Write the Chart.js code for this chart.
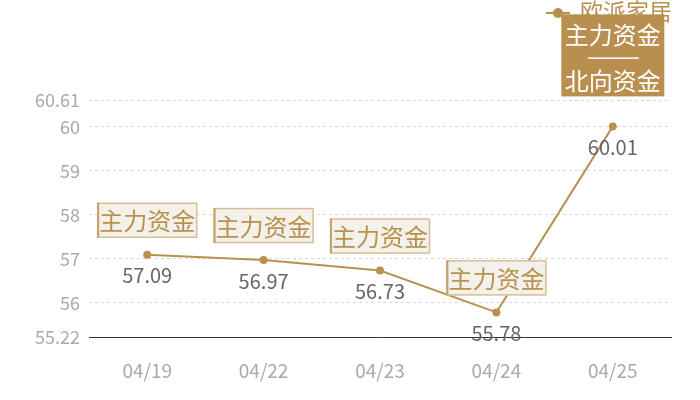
<!DOCTYPE html>
<html>
<head>
<meta charset="utf-8">
<script src="https://cdn.jsdelivr.net/npm/chart.js@4"></script>
<style>
  html, body { margin: 0; padding: 0; background: #fff; }
  #wrap { width: 700px; height: 400px; }
</style>
</head>
<body>
<div id="wrap"><canvas id="chart" width="700" height="400"></canvas></div>
<script>
// 数据
const dates = ['04/19', '04/22', '04/23', '04/24', '04/25'];
const prices = [57.09, 56.97, 56.73, 55.78, 60.01];
const tags = ['主力资金', '主力资金', '主力资金', '主力资金', '主力资金\n北向资金'];
const yTicks = [55.22, 56, 57, 58, 59, 60, 60.61];
const seriesName = '欧派家居';

const GOLD = '#b8914f';
const FONT = '"Noto Sans CJK SC", "Noto Sans", sans-serif';

// 数值标签 + 资金标注 + 图例
const markPlugin = {
    id: 'marks',
    afterDatasetsDraw(chart) {
        const ctx = chart.ctx;
        const meta = chart.getDatasetMeta(0);

        // 图例
        ctx.save();
        ctx.strokeStyle = GOLD;
        ctx.lineWidth = 2;
        ctx.beginPath();
        ctx.moveTo(546, 13);
        ctx.lineTo(570, 13);
        ctx.stroke();
        ctx.fillStyle = GOLD;
        ctx.beginPath();
        ctx.arc(558, 13, 5, 0, Math.PI * 2);
        ctx.fill();
        ctx.font = '23px ' + FONT;
        ctx.textBaseline = 'middle';
        ctx.textAlign = 'left';
        ctx.fillText(seriesName, 580, 11);
        ctx.restore();

        meta.data.forEach((pt, i) => {
            const x = pt.x, y = pt.y;
            // 数值
            ctx.save();
            ctx.font = '20px ' + FONT;
            ctx.fillStyle = '#666';
            ctx.textAlign = 'center';
            ctx.textBaseline = 'middle';
            ctx.fillText(prices[i].toFixed(2), x, y + 21);
            ctx.restore();

            const lines = tags[i].split('\n');
            ctx.save();
            ctx.font = '24px ' + FONT;
            ctx.textAlign = 'center';
            ctx.textBaseline = 'middle';
            if (lines.length === 1) {
                const w = 100, h = 35;
                const bx = x - w / 2, by = y - 17 - h;
                ctx.fillStyle = '#f4f0ea';
                ctx.fillRect(bx, by, w, h);
                ctx.strokeStyle = '#d6bf96';
                ctx.lineWidth = 1.5;
                ctx.strokeRect(bx + 0.5, by + 0.5, w - 1, h - 1);
                ctx.strokeStyle = '#c4a06a';
                ctx.lineWidth = 2;
                ctx.beginPath();
                ctx.moveTo(bx + 1, by);
                ctx.lineTo(bx + 1, by + h);
                ctx.stroke();
                ctx.fillStyle = GOLD;
                ctx.fillText(lines[0], x, by + h / 2 + 1);
            } else {
                const w = 103, h = 82;
                const bx = x - w / 2, by = y - 30 - h;
                ctx.fillStyle = '#b98f50';
                ctx.fillRect(bx, by, w, h);
                ctx.fillStyle = '#fff';
                ctx.fillText(lines[0], x, by + 20);
                ctx.fillRect(x - 25, by + 43, 51, 1.5);
                ctx.fillText(lines[1], x, by + 66);
            }
            ctx.restore();
        });
    }
};

new Chart(document.getElementById('chart').getContext('2d'), {
    type: 'line',
    data: {
        labels: dates,
        datasets: [{
            label: seriesName,
            data: prices,
            borderColor: GOLD,
            backgroundColor: GOLD,
            borderWidth: 2,
            pointRadius: 4,
            pointHoverRadius: 4,
            pointBackgroundColor: GOLD,
            pointBorderWidth: 0,
            tension: 0,
            fill: false
        }]
    },
    options: {
        responsive: false,
        animation: false,
        layout: { padding: { top: 100, right: 29, left: 0, bottom: 0 } },
        plugins: {
            legend: { display: false },
            tooltip: { enabled: false }
        },
        scales: {
            x: {
                offset: true,
                grid: { display: false, drawTicks: false },
                border: { display: true, color: '#333', width: 1 },
                ticks: {
                    color: '#aaa',
                    font: { size: 19, family: FONT },
                    padding: 22
                },
                afterFit(scale) { scale.height = 63; }
            },
            y: {
                min: 55.22,
                max: 60.61,
                afterBuildTicks(scale) {
                    scale.ticks = yTicks.map(v => ({ value: v }));
                },
                grid: {
                    color: ctx => ctx.index === 0 ? 'rgba(0,0,0,0)' : '#d8d8d8',
                    drawTicks: false,
                    lineWidth: 1
                },
                border: { display: false, dash: [3, 3] },
                ticks: {
                    color: '#aaa',
                    font: { size: 18, family: FONT },
                    padding: 9,
                    callback: v => String(v)
                },
                afterFit(scale) { scale.width = 89; }
            }
        }
    },
    plugins: [markPlugin]
});
</script>
</body>
</html>
